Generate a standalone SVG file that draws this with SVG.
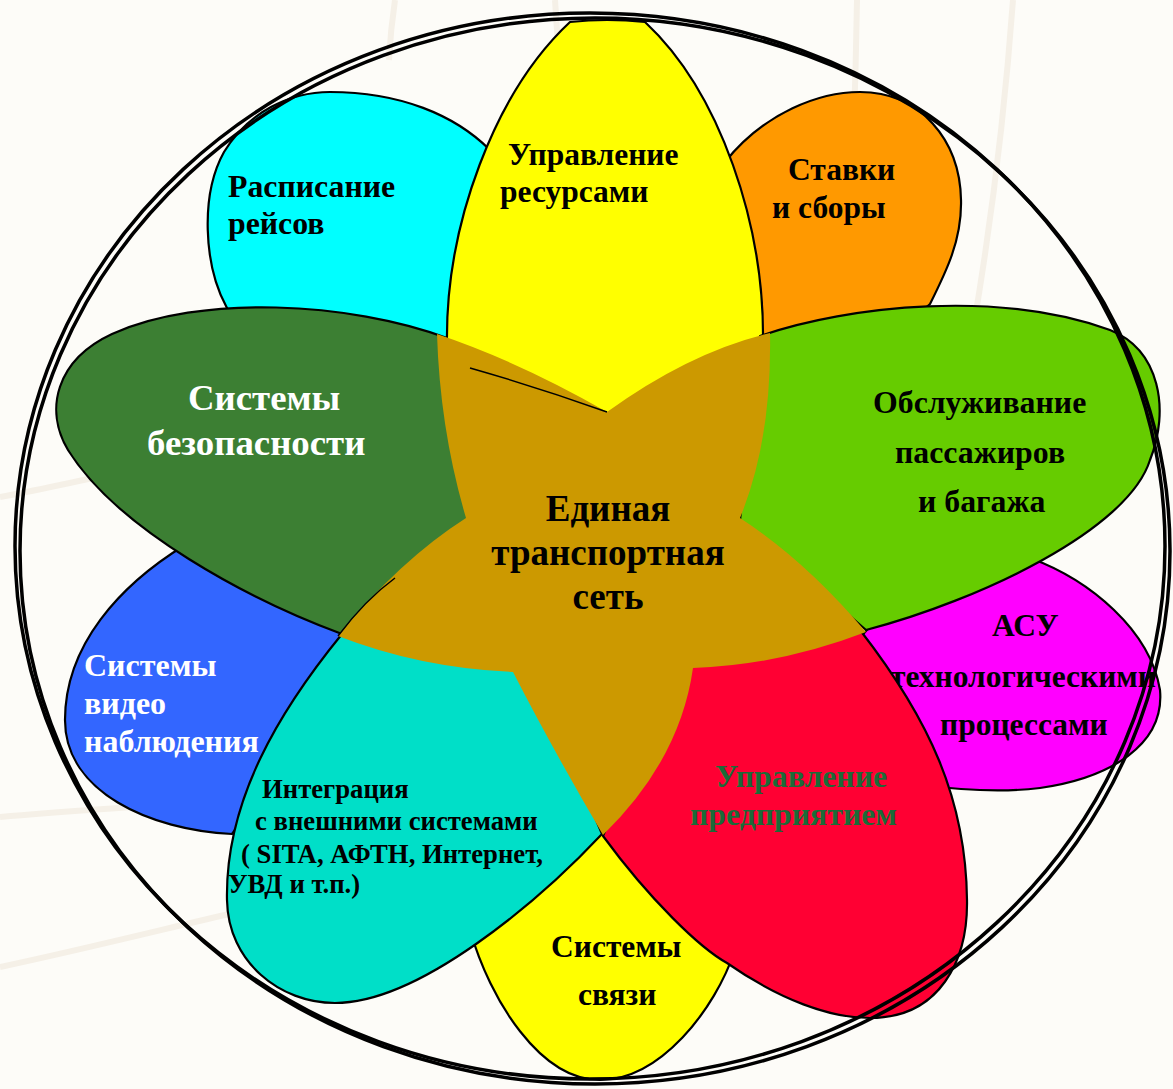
<svg xmlns="http://www.w3.org/2000/svg" width="1173" height="1089" viewBox="0 0 1173 1089">
<style>
  .petal { stroke: #000; stroke-width: 2.2; stroke-linejoin: round; }
  .t { font-family: "Liberation Serif", "Times New Roman", serif; font-weight: bold; }
  .bk { fill: #000; }
  .wh { fill: #fff; }
  .dg { fill: #1b6b38; }
  .bgline { fill: none; stroke: #f5f0e7; stroke-width: 6; }
  .ring { fill: none; stroke: #000; stroke-width: 3.5; }
</style>
<rect width="1173" height="1089" fill="#fdfcf8"/>
<g id="background">
  <path class="bgline" d="M 395,0 C 392,20 390,40 389,60"/>
  <path class="bgline" d="M 555,0 C 556,15 557,30 558,45"/>
  <path class="bgline" d="M 857,0 C 855,120 850,240 843,350"/>
  <path class="bgline" d="M 1013,0 C 1005,110 990,230 973,330"/>
  <path class="bgline" d="M 0,497 C 40,490 80,480 120,473"/>
  <path class="bgline" d="M 0,817 C 80,810 160,805 240,800"/>
  <path class="bgline" d="M 0,967 C 80,950 160,930 233,913"/>
</g>
<g id="petal-cyan">
  <path class="petal" fill="#00ffff" d="M 226,306 C 204,265 200,195 224,152 C 248,112 290,92 330,92 C 400,92 455,115 490,150 L 480,420 L 245,345 Z"/>
  <text class="t bk" font-size="31.8" x="228" y="197">Расписание</text>
  <text class="t bk" font-size="31.8" x="228" y="234">рейсов</text>
</g>
<g id="petal-orange">
  <path class="petal" fill="#ff9900" d="M 725,162 C 765,112 820,92 860,92 C 920,92 960,140 961,200 C 962,240 946,272 930,304 L 800,420 L 700,400 L 700,200 Z"/>
  <text class="t bk" font-size="31.5" x="788" y="180">Ставки</text>
  <text class="t bk" font-size="31.5" x="772" y="218">и сборы</text>
</g>
<g id="petal-blue">
  <path class="petal" fill="#3366ff" d="M 185,545 C 120,585 65,645 65,720 C 65,792 150,830 232,834 L 330,700 L 345,632 Z"/>
  <text class="t wh" font-size="32" x="84" y="676">Системы</text>
  <text class="t wh" font-size="32" x="84" y="714">видео</text>
  <text class="t wh" font-size="32" x="84" y="752">наблюдения</text>
</g>
<g id="petal-magenta">
  <path class="petal" fill="#ff00ff" d="M 1030,558 C 1090,580 1150,630 1160,690 C 1165,745 1110,778 1040,788 C 1000,793 960,790 920,785 L 858,640 L 880,615 Z"/>
  <text class="t bk" font-size="31.5" x="992" y="636">АСУ</text>
  <text class="t bk" font-size="31.5" x="890" y="687">технологическими</text>
  <text class="t bk" font-size="31.5" x="940" y="735">процессами</text>
</g>
<g id="petal-yellow-bottom">
  <path class="petal" fill="#ffff00" d="M 470,930 C 490,1000 540,1080 600,1080 C 660,1080 715,1010 735,950 L 603,800 Z"/>
  <text class="t bk" font-size="31.5" x="551" y="957">Системы</text>
  <text class="t bk" font-size="31.5" x="578" y="1005">связи</text>
</g>
<g id="petal-yellow-top">
  <path class="petal" fill="#ffff00" d="M 447,345 C 445,225 495,92 570,22 Q 607,18 645,22 C 720,92 765,225 763,345 L 605,420 Z"/>
  <text class="t bk" font-size="31.5" x="508" y="165">Управление</text>
  <text class="t bk" font-size="31.5" x="500" y="202">ресурсами</text>
</g>
<g id="petal-darkgreen">
  <path class="petal" fill="#3c7f33" d="M 447,338 C 350,302 200,294 112,334 C 56,360 44,410 68,450 C 118,530 250,600 342,634 L 470,520 Z"/>
  <text class="t wh" font-size="36.8" x="188" y="410">Системы</text>
  <text class="t wh" font-size="36.8" x="147" y="455">безопасности</text>
</g>
<g id="petal-lightgreen">
  <path class="petal" fill="#66cc00" d="M 760,336 C 850,305 1000,290 1110,330 C 1160,350 1170,410 1150,460 C 1128,530 980,600 866,630 L 740,520 Z"/>
  <text class="t bk" font-size="31.8" x="873" y="413">Обслуживание</text>
  <text class="t bk" font-size="31.8" x="895" y="463">пассажиров</text>
  <text class="t bk" font-size="31.8" x="918" y="512">и багажа</text>
</g>
<g id="petal-teal">
  <path class="petal" fill="#00dfc8" d="M 342,634 C 280,710 225,800 227,900 C 228,962 280,1003 335,1003 C 420,1003 540,900 602,834 L 520,640 Z"/>
  <text class="t bk" font-size="26.7" x="262" y="798">Интеграция</text>
  <text class="t bk" font-size="26.7" x="255" y="830">с внешними системами</text>
  <text class="t bk" font-size="26.7" x="241" y="863">( SITA, АФТН, Интернет,</text>
  <text class="t bk" font-size="26.7" x="228" y="893">УВД и т.п.)</text>
</g>
<g id="petal-red">
  <path class="petal" fill="#ff0033" d="M 603,836 C 650,900 700,948 727,963 C 780,1000 830,1018 870,1018 C 940,1018 968,960 967,900 C 966,800 930,720 860,630 L 700,600 Z"/>
  <text class="t dg" font-size="31.8" x="715" y="787">Управление</text>
  <text class="t dg" font-size="31.8" x="690" y="825">предприятием</text>
</g>
<g id="center-star">
  <path fill="#cc9900" d="M 437,334 Q 520,362 607,412 Q 690,352 770,333 Q 772,440 740,518 Q 805,560 866,632 Q 780,665 693,668 Q 680,760 603,835 Q 552,748 513,672 Q 420,668 338,636 Q 400,560 466,518 Q 440,430 437,334 Z"/>
  <path d="M 470,368 Q 540,388 607,412" fill="none" stroke="#000" stroke-width="1.5"/>
  <path d="M 338,636 Q 365,600 395,578" fill="none" stroke="#000" stroke-width="1.5"/>
  <text class="t bk" font-size="37" x="608" y="521" text-anchor="middle">Единая</text>
  <text class="t bk" font-size="37" x="608" y="565" text-anchor="middle">транспортная</text>
  <text class="t bk" font-size="37" x="608" y="609" text-anchor="middle">сеть</text>
</g>
<g id="connectors"></g>
<g id="frame">
  <ellipse class="ring" cx="590" cy="546" rx="575" ry="533"/>
  <ellipse class="ring" cx="595" cy="551" rx="575" ry="533"/>
</g>
</svg>
